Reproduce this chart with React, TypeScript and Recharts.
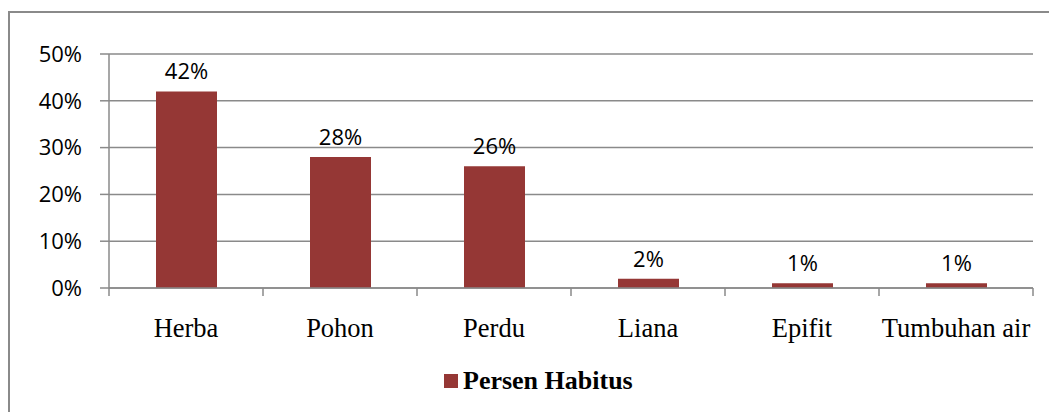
import { BarChart, Bar, XAxis, YAxis, CartesianGrid, LabelList, Legend } from "recharts";

const categories = ["Herba", "Pohon", "Perdu", "Liana", "Epifit", "Tumbuhan air"];
const persenHabitus = [42, 28, 26, 2, 1, 1];
const yTicks = [0, 10, 20, 30, 40, 50];

const data = categories.map((name, i) => ({ name, value: persenHabitus[i] }));

const BAR_COLOR = "#953735";
const GRID = "#8a8a8a";
const SANS = "'Open Sans', 'Liberation Sans', sans-serif";
const SERIF = "'Liberation Serif', 'Times New Roman', serif";

function CategoryTick(props: any) {
  const { x, y, payload, index, width, visibleTicksCount } = props;
  const half = width / visibleTicksCount / 2;
  const isLast = index === visibleTicksCount - 1;
  return (
    <g>
      <line x1={x - half} x2={x - half} y1={y} y2={y + 8} stroke={GRID} strokeWidth={1.5} />
      {isLast && <line x1={x + half} x2={x + half} y1={y} y2={y + 8} stroke={GRID} strokeWidth={1.5} />}
      <text x={x} y={y + 49} textAnchor="middle" fill="#000" fontFamily={SERIF} fontSize={26.5}>
        {payload.value}
      </text>
    </g>
  );
}

function HabitusLegend() {
  return (
    <div style={{ display: "flex", alignItems: "center", height: 26 }}>
      <span style={{ width: 14, height: 14, background: BAR_COLOR, marginRight: 5, display: "inline-block" }} />
      <span style={{ fontFamily: SERIF, fontWeight: "bold", fontSize: 26, lineHeight: "26px", color: "#000" }}>
        Persen Habitus
      </span>
    </div>
  );
}

export default function App() {
  return (
    <div style={{ position: "relative", width: 1049, height: 404, overflow: "hidden", background: "#fff" }}>
      <div
        style={{
          position: "absolute",
          left: 0,
          top: 3,
          width: 2000,
          height: 1000,
          border: `2px solid ${GRID}`,
        }}
      />
      <div style={{ position: "absolute", left: 0, top: 0 }}>
        <BarChart width={1049} height={404} data={data} margin={{ top: 46, right: 24, left: 0, bottom: 64 }}>
          <CartesianGrid vertical={false} stroke={GRID} strokeWidth={1.5} />
          <XAxis
            dataKey="name"
            height={60}
            tickLine={false}
            tickSize={0}
            tickMargin={0}
            axisLine={{ stroke: GRID, strokeWidth: 1.5 }}
            tick={<CategoryTick />}
            interval={0}
          />
          <YAxis
            width={101}
            domain={[0, 50]}
            ticks={yTicks}
            tickFormatter={(v: number) => `${v}%`}
            tickSize={9}
            tickMargin={18}
            tickLine={{ stroke: GRID, strokeWidth: 1.5 }}
            axisLine={{ stroke: GRID, strokeWidth: 1.5 }}
            tick={{ fill: "#000", fontFamily: SANS, fontSize: 22 }}
          />
          <Legend
            verticalAlign="middle"
            align="center"
            content={<HabitusLegend />}
            wrapperStyle={{ top: 360, left: 436, width: 300, height: 26 }}
          />
          <Bar dataKey="value" name="Persen Habitus" fill={BAR_COLOR} barSize={61} isAnimationActive={false}>
            <LabelList
              dataKey="value"
              position="top"
              offset={12}
              formatter={(v: any) => `${v}%`}
              fill="#000"
              fontFamily={SANS}
              fontSize={22}
            />
          </Bar>
        </BarChart>
      </div>
    </div>
  );
}
